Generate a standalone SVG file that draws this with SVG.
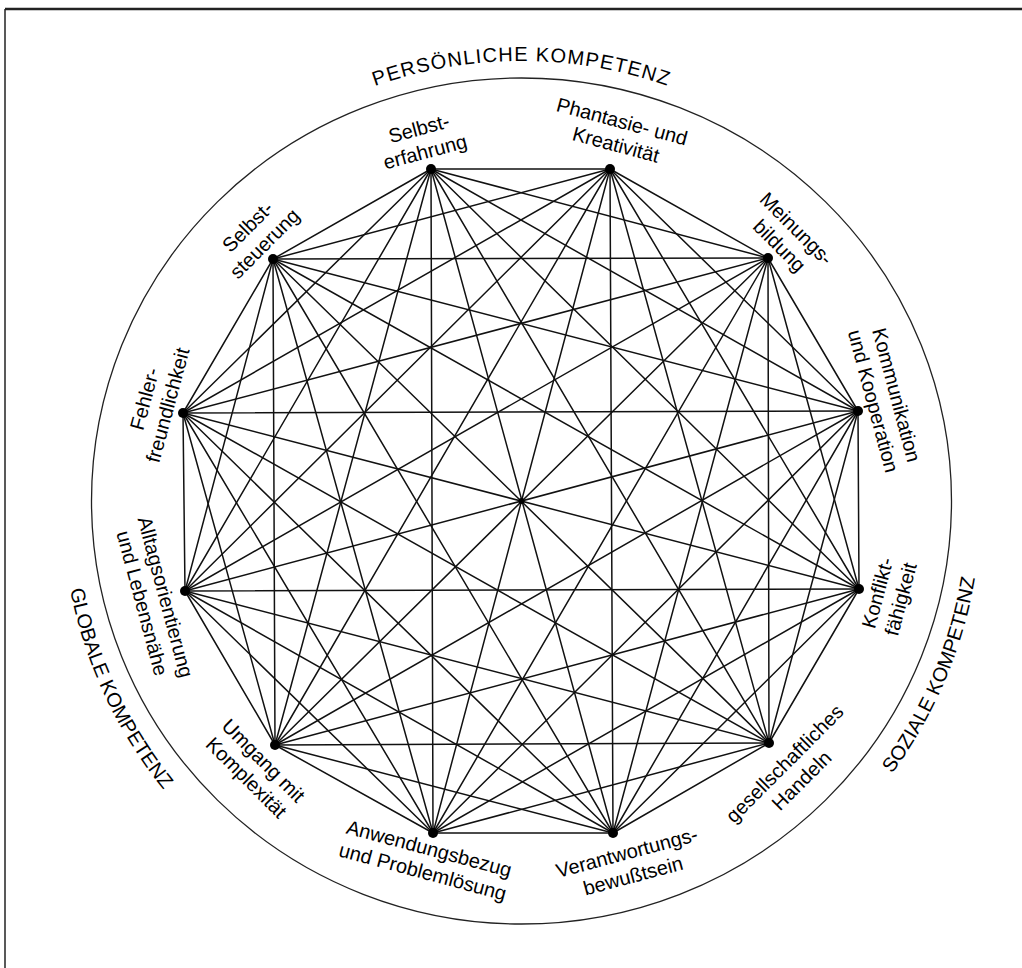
<svg xmlns="http://www.w3.org/2000/svg" width="1022" height="968" viewBox="0 0 1022 968">
  <style>
    .frame { fill: none; stroke: #222; }
    .ring { fill: none; stroke: #222; stroke-width: 1.3; }
    .edges line { stroke: #111; stroke-width: 1.5; stroke-linecap: round; }
    .dot { fill: #000; }
    .lbl { font-family: "Liberation Sans", Arial, sans-serif; font-size: 20px; fill: #000; text-anchor: middle; }
    .arc { font-family: "Liberation Sans", Arial, sans-serif; font-size: 20px; fill: #000; text-anchor: middle; }
  </style>
  <defs>
    <path id="arcTop" d="M140.45,281 A440,440 0 0 1 902.55,281"/>
    <path id="arcRight" d="M656,940.9 A460,460 0 0 0 931.4,292.2"/>
    <path id="arcLeft" d="M104.6,306.6 A460,460 0 0 0 402.4,945.3"/>
  </defs>

  <rect width="1022" height="968" fill="#fff"/>

  <!-- page frame (top and left edges) -->
  <line class="frame" x1="5" y1="9" x2="1022" y2="9" stroke-width="2.5"/>
  <line class="frame" x1="5" y1="9" x2="5" y2="968" stroke-width="1.5"/>

  <!-- outer ring -->
  <ellipse class="ring" cx="521.5" cy="501" rx="430" ry="423"/>

  <!-- competence areas -->
  <g id="area-persoenlich">
    <text class="arc" letter-spacing="1.2"><textPath href="#arcTop" startOffset="50%">PERSÖNLICHE KOMPETENZ</textPath></text>
  </g>
  <g id="area-sozial">
    <text class="arc"><textPath href="#arcRight" startOffset="50%">SOZIALE KOMPETENZ</textPath></text>
  </g>
  <g id="area-global">
    <text class="arc"><textPath href="#arcLeft" startOffset="50%">GLOBALE KOMPETENZ</textPath></text>
  </g>

  <!-- connectors: every competence linked with every other -->
  <g id="connectors" class="edges">
    <line x1="431" y1="169" x2="610" y2="169"/>
    <line x1="431" y1="169" x2="768" y2="258"/>
    <line x1="431" y1="169" x2="858" y2="411"/>
    <line x1="431" y1="169" x2="859" y2="589"/>
    <line x1="431" y1="169" x2="769" y2="743"/>
    <line x1="431" y1="169" x2="613" y2="833"/>
    <line x1="431" y1="169" x2="433" y2="833"/>
    <line x1="431" y1="169" x2="275" y2="745"/>
    <line x1="431" y1="169" x2="185" y2="591"/>
    <line x1="431" y1="169" x2="183" y2="413"/>
    <line x1="431" y1="169" x2="273" y2="259"/>

    <line x1="610" y1="169" x2="768" y2="258"/>
    <line x1="610" y1="169" x2="858" y2="411"/>
    <line x1="610" y1="169" x2="859" y2="589"/>
    <line x1="610" y1="169" x2="769" y2="743"/>
    <line x1="610" y1="169" x2="613" y2="833"/>
    <line x1="610" y1="169" x2="433" y2="833"/>
    <line x1="610" y1="169" x2="275" y2="745"/>
    <line x1="610" y1="169" x2="185" y2="591"/>
    <line x1="610" y1="169" x2="183" y2="413"/>
    <line x1="610" y1="169" x2="273" y2="259"/>

    <line x1="768" y1="258" x2="858" y2="411"/>
    <line x1="768" y1="258" x2="859" y2="589"/>
    <line x1="768" y1="258" x2="769" y2="743"/>
    <line x1="768" y1="258" x2="613" y2="833"/>
    <line x1="768" y1="258" x2="433" y2="833"/>
    <line x1="768" y1="258" x2="275" y2="745"/>
    <line x1="768" y1="258" x2="185" y2="591"/>
    <line x1="768" y1="258" x2="183" y2="413"/>
    <line x1="768" y1="258" x2="273" y2="259"/>

    <line x1="858" y1="411" x2="859" y2="589"/>
    <line x1="858" y1="411" x2="769" y2="743"/>
    <line x1="858" y1="411" x2="613" y2="833"/>
    <line x1="858" y1="411" x2="433" y2="833"/>
    <line x1="858" y1="411" x2="275" y2="745"/>
    <line x1="858" y1="411" x2="185" y2="591"/>
    <line x1="858" y1="411" x2="183" y2="413"/>
    <line x1="858" y1="411" x2="273" y2="259"/>

    <line x1="859" y1="589" x2="769" y2="743"/>
    <line x1="859" y1="589" x2="613" y2="833"/>
    <line x1="859" y1="589" x2="433" y2="833"/>
    <line x1="859" y1="589" x2="275" y2="745"/>
    <line x1="859" y1="589" x2="185" y2="591"/>
    <line x1="859" y1="589" x2="183" y2="413"/>
    <line x1="859" y1="589" x2="273" y2="259"/>

    <line x1="769" y1="743" x2="613" y2="833"/>
    <line x1="769" y1="743" x2="433" y2="833"/>
    <line x1="769" y1="743" x2="275" y2="745"/>
    <line x1="769" y1="743" x2="185" y2="591"/>
    <line x1="769" y1="743" x2="183" y2="413"/>
    <line x1="769" y1="743" x2="273" y2="259"/>

    <line x1="613" y1="833" x2="433" y2="833"/>
    <line x1="613" y1="833" x2="275" y2="745"/>
    <line x1="613" y1="833" x2="185" y2="591"/>
    <line x1="613" y1="833" x2="183" y2="413"/>
    <line x1="613" y1="833" x2="273" y2="259"/>

    <line x1="433" y1="833" x2="275" y2="745"/>
    <line x1="433" y1="833" x2="185" y2="591"/>
    <line x1="433" y1="833" x2="183" y2="413"/>
    <line x1="433" y1="833" x2="273" y2="259"/>

    <line x1="275" y1="745" x2="185" y2="591"/>
    <line x1="275" y1="745" x2="183" y2="413"/>
    <line x1="275" y1="745" x2="273" y2="259"/>

    <line x1="185" y1="591" x2="183" y2="413"/>
    <line x1="185" y1="591" x2="273" y2="259"/>

    <line x1="183" y1="413" x2="273" y2="259"/>
  </g>
  <circle class="dot" cx="521.5" cy="501" r="3"/>

  <!-- competences -->
  <g id="selbsterfahrung">
    <circle class="dot" cx="431" cy="169" r="5"/>
    <text class="lbl" transform="translate(422,140) rotate(-15)"><tspan x="0" y="-5">Selbst-</tspan><tspan x="0" y="19">erfahrung</tspan></text>
  </g>
  <g id="phantasie">
    <circle class="dot" cx="610" cy="169" r="5"/>
    <text class="lbl" transform="translate(619,133) rotate(15)"><tspan x="0" y="-5">Phantasie- und</tspan><tspan x="0" y="19">Kreativität</tspan></text>
  </g>
  <g id="meinungsbildung">
    <circle class="dot" cx="768" cy="258" r="5"/>
    <text class="lbl" transform="translate(788,237) rotate(45)"><tspan x="0" y="-5">Meinungs-</tspan><tspan x="0" y="19">bildung</tspan></text>
  </g>
  <g id="kommunikation">
    <circle class="dot" cx="858" cy="411" r="5"/>
    <text class="lbl" transform="translate(885,398) rotate(75)"><tspan x="0" y="-5">Kommunikation</tspan><tspan x="0" y="19">und Kooperation</tspan></text>
  </g>
  <g id="konflikt">
    <circle class="dot" cx="859" cy="589" r="5"/>
    <text class="lbl" transform="translate(889,596) rotate(-75)"><tspan x="0" y="-5">Konflikt-</tspan><tspan x="0" y="19">fähigkeit</tspan></text>
  </g>
  <g id="gesellschaft">
    <circle class="dot" cx="769" cy="743" r="5"/>
    <text class="lbl" transform="translate(793,772) rotate(-45)"><tspan x="0" y="-5">gesellschaftliches</tspan><tspan x="0" y="19">Handeln</tspan></text>
  </g>
  <g id="verantwortung">
    <circle class="dot" cx="613" cy="833" r="5"/>
    <text class="lbl" transform="translate(630,864) rotate(-15)"><tspan x="0" y="-5">Verantwortungs-</tspan><tspan x="0" y="19">bewußtsein</tspan></text>
  </g>
  <g id="anwendung">
    <circle class="dot" cx="433" cy="833" r="5"/>
    <text class="lbl" transform="translate(426,860) rotate(15)"><tspan x="0" y="-5">Anwendungsbezug</tspan><tspan x="0" y="19">und Problemlösung</tspan></text>
  </g>
  <g id="umgang">
    <circle class="dot" cx="275" cy="745" r="5"/>
    <text class="lbl" transform="translate(255,769) rotate(45)"><tspan x="0" y="-5">Umgang mit</tspan><tspan x="0" y="19">Komplexität</tspan></text>
  </g>
  <g id="alltag">
    <circle class="dot" cx="185" cy="591" r="5"/>
    <text class="lbl" transform="translate(154,600) rotate(75)"><tspan x="0" y="-5">Alltagsorientierung</tspan><tspan x="0" y="19">und Lebensnähe</tspan></text>
  </g>
  <g id="fehler">
    <circle class="dot" cx="183" cy="413" r="5"/>
    <text class="lbl" transform="translate(156,402) rotate(-75)"><tspan x="0" y="-5">Fehler-</tspan><tspan x="0" y="19">freundlichkeit</tspan></text>
  </g>
  <g id="selbststeuerung">
    <circle class="dot" cx="273" cy="259" r="5"/>
    <text class="lbl" transform="translate(256,235) rotate(-45)"><tspan x="0" y="-5">Selbst-</tspan><tspan x="0" y="19">steuerung</tspan></text>
  </g>
</svg>
